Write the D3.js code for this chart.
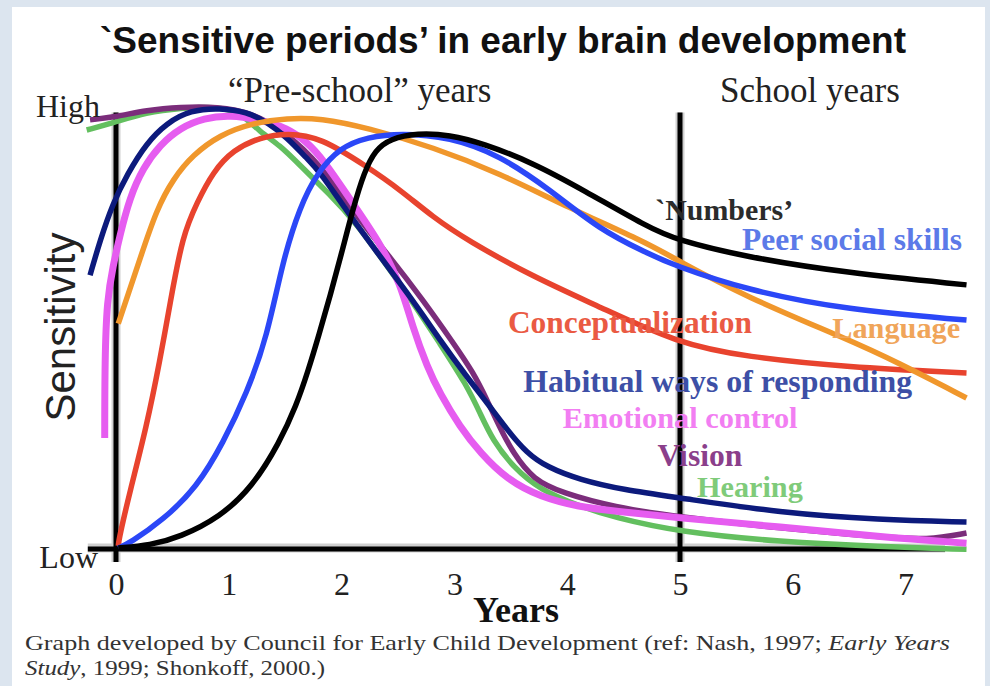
<!DOCTYPE html>
<html>
<head>
<meta charset="utf-8">
<script src="https://cdn.jsdelivr.net/npm/d3@7"></script>
<style>
    body { margin: 0; background: #dce5ef; }
    svg { display: block; }
</style>
</head>
<body>
<script>
// series names, in drawing order
const seriesNames = ["Hearing", "Vision", "Emotional control", "Habitual ways of responding",
    "Conceptualization", "Language", "Peer social skills", "`Numbers’"];

// sensitivity readings, [years, sensitivity 0-100]
const hearing = [[-0.26, 95], [-0.03, 96.6], [0.27, 99], [0.57, 100], [0.9, 100.3], [1.1, 99], [1.28, 94.5],
    [1.45, 91.6], [1.63, 87], [1.9, 80.2], [2.1, 75], [2.63, 56], [2.87, 46.5], [3.11, 37], [3.23, 30.5],
    [3.34, 24.5], [3.52, 18.4], [3.76, 13.2], [4.11, 9.5], [4.41, 7], [5, 3.6], [5.89, 1.4], [6.77, 0.3], [7.54, -0.3]];
const vision = [[-0.23, 97.3], [0, 98], [0.27, 99.5], [0.57, 100.2], [0.9, 100.3], [1.2, 99], [1.5, 94.5],
    [1.8, 87.5], [2.16, 74.5], [2.43, 66.1], [2.72, 56.4], [2.99, 46.6], [3.17, 39.8], [3.29, 33.6], [3.4, 27.5],
    [3.52, 21.6], [3.7, 15.5], [3.96, 12.5], [4.41, 9.3], [5, 7], [5.89, 4.5], [6.77, 2.5], [7.2, 1.8], [7.54, 3.4]];
const emotional = [[-0.1, 25], [-0.099, 42.7], [-0.08, 56.4], [-0.027, 64], [0.035, 71.1], [0.12, 79.5],
    [0.24, 86.4], [0.39, 91.6], [0.57, 95.5], [0.78, 97.7], [1.01, 98.4], [1.28, 97.3], [1.52, 95.5], [1.69, 92.3],
    [1.83, 88.6], [2.14, 76.8], [2.34, 69.3], [2.52, 60.2], [2.63, 50.2], [2.76, 41.1], [2.87, 35.2], [3.05, 27.5],
    [3.23, 21.6], [3.47, 15.5], [3.76, 11.6], [4.11, 9.3], [4.41, 8.4], [5, 6.8], [5.89, 4.8], [6.77, 2.5], [7.54, 1.1]];
const habitual = [[-0.23, 62], [-0.14, 70], [-0.03, 78.2], [0.1, 85], [0.27, 92], [0.45, 96.6], [0.66, 99.5],
    [0.92, 100], [1.16, 99.1], [1.34, 96.8], [1.52, 93.2], [1.69, 88.6], [1.81, 85.5], [2.1, 74.5], [2.63, 56.4],
    [2.87, 47.3], [3.11, 38.9], [3.29, 33], [3.47, 26.8], [3.64, 21.6], [3.82, 18.4], [4.11, 15.5], [4.5, 13.2],
    [5, 11.4], [5.89, 8], [6.77, 6.4], [7.54, 5.9]];
const conceptualization = [[0.02, 0.5], [0.03, 2.5], [0.12, 12.5], [0.27, 27.5], [0.39, 42.7], [0.48, 55.7],
    [0.59, 71.1], [0.72, 78.6], [0.86, 85.5], [1.04, 90.5], [1.28, 93.4], [1.52, 94.3], [1.81, 93.4], [2.23, 86.6],
    [2.52, 81.4], [2.81, 75.2], [3.11, 70], [3.7, 61.6], [4.29, 54.8], [4.97, 46.6], [5.59, 43.4], [6.48, 41.1],
    [7.54, 39.8]];
const language = [[0.02, 51], [0.12, 58.6], [0.21, 65.5], [0.36, 77], [0.51, 84], [0.68, 89.3], [0.92, 93.9],
    [1.21, 96.6], [1.52, 97.7], [1.81, 97.7], [2.23, 95.5], [2.81, 91.1], [3.4, 85.2], [4, 77.5], [4.71, 69.3],
    [4.94, 65.9], [5.59, 57], [6.48, 47.5], [6.92, 42.3], [7.54, 34.1]];
const peerSocial = [[0.02, 0], [0.12, 1.1], [0.42, 6.4], [0.72, 13.9], [0.95, 23.9], [1.16, 35.2], [1.34, 48],
    [1.48, 65.5], [1.63, 77.5], [1.78, 85.2], [1.99, 91.1], [2.23, 93.4], [2.52, 94.3], [2.96, 93.4], [3.4, 89.3],
    [3.85, 81.4], [4.29, 72.3], [4.71, 67], [4.94, 64.3], [5.59, 58.6], [6.48, 54.1], [7.54, 51.8]];
const numbers = [[0.02, 0], [0.3, 0.6], [0.57, 2.5], [0.92, 7], [1.21, 13.9], [1.45, 24], [1.6, 32.5],
    [1.7, 40], [1.8, 48.5], [1.9, 57.5], [2, 67], [2.1, 77], [2.2, 85.5], [2.3, 90.5], [2.43, 93], [2.67, 94.3],
    [2.96, 93.9], [3.25, 92], [3.7, 87.5], [4.14, 81.4], [4.71, 73], [4.97, 70], [5.59, 66.1], [6.48, 62.5],
    [7.54, 59.8]];

const seriesValues = [hearing, vision, emotional, habitual, conceptualization, language, peerSocial, numbers];

// x axis tick labels (years)
const yearTicks = [0, 1, 2, 3, 4, 5, 6, 7];

// line colours
const LINE_COLORS = ["#63bf5f", "#7b2d7b", "#e65cf0", "#0c1a7c", "#e8432e", "#f0972c", "#2b47f7", "#000000"];
// label colours (the labels are a bit lighter than the lines)
const LABEL_COLORS = ["#7fcb7a", "#8b3f8b", "#f27ef2", "#3d4fa6", "#ea5a43", "#f0a55a", "#5c7ae8", "#2b2b2b"];
// where each label starts, in chart units [years, sensitivity]
const LABEL_SPOTS = [[5.15, 11.6], [4.8, 18.6], [3.96, 27.3], [3.61, 35.5], [3.475, 48.9], [6.35, 47.7],
    [5.55, 67.7], [4.78, 74.5]];
// how wide each label is in the picture, px
const LABEL_WIDTHS = [106, 85, 235, 389, 244, 128, 220, 138];

const SERIF = "'Liberation Serif', 'Times New Roman', serif";
const SANS = "'Liberation Sans', Arial, sans-serif";

document.addEventListener('DOMContentLoaded', (_) => {
    const svg = d3.select("body").append("svg")
        .attr("width", 990)
        .attr("height", 686);

    // white sheet inside the pale frame
    svg.append("rect")
        .attr("x", 12).attr("y", 7)
        .attr("width", 973).attr("height", 679)
        .style("fill", "#ffffff");

    // scales: year 0 sits on the y axis, year 5 on the school line
    const x = d3.scaleLinear().domain([0, 5]).range([116, 680]);
    const y = d3.scaleLinear().domain([0, 100]).range([548, 108]);

    // title
    svg.append("text")
        .attr("x", 503).attr("y", 53)
        .attr("text-anchor", "middle")
        .style("font-family", SANS).style("font-weight", "bold").style("font-size", "37px")
        .style("fill", "#111")
        .text("`Sensitive periods’ in early brain development");

    // period headings
    svg.append("text")
        .attr("x", 228).attr("y", 102)
        .style("font-family", SERIF).style("font-size", "35px").style("fill", "#222")
        .text("“Pre-school” years");
    svg.append("text")
        .attr("x", 720).attr("y", 102)
        .style("font-family", SERIF).style("font-size", "35px").style("fill", "#222")
        .text("School years");

    // axis lines, with a soft grey edge
    const axisLines = [
        [x(-0.25), y(0), x(7.35), y(0)],
        [x(0), y(99), x(0), y(-3.2)],
        [x(5), y(99), x(5), y(-3.2)]
    ];
    svg.selectAll("line.shade").data(axisLines).enter()
        .append("line").classed("shade", true)
        .attr("x1", d => d[0]).attr("y1", d => d[1])
        .attr("x2", d => d[2]).attr("y2", d => d[3])
        .style("stroke", "#cfcfcf").style("stroke-width", 9);
    svg.selectAll("line.axis").data(axisLines).enter()
        .append("line").classed("axis", true)
        .attr("x1", d => d[0]).attr("y1", d => d[1] + (d[1] === d[3] ? 1 : 0))
        .attr("x2", d => d[2]).attr("y2", d => d[3] + (d[1] === d[3] ? 1 : 0))
        .style("stroke", "#000").style("stroke-width", 5);

    // curves, smoothed like the hand drawn original
    const line = d3.line()
        .x(d => x(d[0]))
        .y(d => y(d[1]))
        .curve(d3.curveBasis);

    svg.append("g").selectAll("path")
        .data(seriesValues)
        .enter()
        .append("path")
        .attr("d", line)
        .style("fill", "none")
        .style("stroke", (d, i) => LINE_COLORS[i])
        .style("stroke-width", (d, i) => i === 2 ? 7 : 5.5)
        .style("stroke-linecap", "butt")
        .style("stroke-linejoin", "round");

    // curve labels, sized to their width in the picture
    svg.append("g").selectAll("text")
        .data(seriesNames)
        .enter()
        .append("text")
        .attr("x", (d, i) => x(LABEL_SPOTS[i][0]))
        .attr("y", (d, i) => y(LABEL_SPOTS[i][1]))
        .style("font-family", SERIF).style("font-weight", "bold").style("font-size", "30px")
        .style("fill", (d, i) => LABEL_COLORS[i])
        .text(d => d)
        .each(function (d, i) {
            const w = this.getComputedTextLength();
            d3.select(this).style("font-size", (30 * LABEL_WIDTHS[i] / w) + "px");
        });

    // x axis tick labels
    svg.append("g")
        .attr("transform", `translate(0,${y(0)})`)
        .call(d3.axisBottom(x).tickValues(yearTicks).tickSize(0).tickPadding(24).tickFormat(d3.format("d")))
        .call(g => g.select(".domain").remove())
        .call(g => g.selectAll("text")
            .style("font-family", SERIF).style("font-size", "32px").style("fill", "#222"));

    // axis words
    svg.append("text")
        .attr("x", 516).attr("y", 622)
        .attr("text-anchor", "middle")
        .style("font-family", SERIF).style("font-weight", "bold").style("font-size", "36px").style("fill", "#111")
        .text("Years");
    svg.append("text")
        .attr("x", 100).attr("y", 117)
        .attr("text-anchor", "end")
        .style("font-family", SERIF).style("font-size", "32px").style("fill", "#222")
        .text("High");
    svg.append("text")
        .attr("x", 98).attr("y", 568)
        .attr("text-anchor", "end")
        .style("font-family", SERIF).style("font-size", "32px").style("fill", "#222")
        .text("Low");
    svg.append("text")
        .attr("transform", "translate(75,327) rotate(-90)")
        .attr("text-anchor", "middle")
        .style("font-family", SANS).style("font-size", "42px").style("fill", "#222")
        .text("Sensitivity");

    // source note, two lines with italic titles, stretched sideways to the picture's width
    const note = [
        [["Graph developed by Council for Early Child Development (ref: Nash, 1997; ", "normal"], ["Early Years", "italic"]],
        [["Study", "italic"], [", 1999; Shonkoff, 2000.)", "normal"]]
    ];
    const noteWidths = [925, 300];
    note.forEach((parts, i) => {
        const t = svg.append("text")
            .attr("x", 25).attr("y", 650 + i * 25)
            .attr("textLength", noteWidths[i])
            .attr("lengthAdjust", "spacingAndGlyphs")
            .style("font-family", SERIF).style("font-size", "21px").style("fill", "#333");
        parts.forEach(p => t.append("tspan").style("font-style", p[1]).text(p[0]));
    });
});
</script>
</body>
</html>
